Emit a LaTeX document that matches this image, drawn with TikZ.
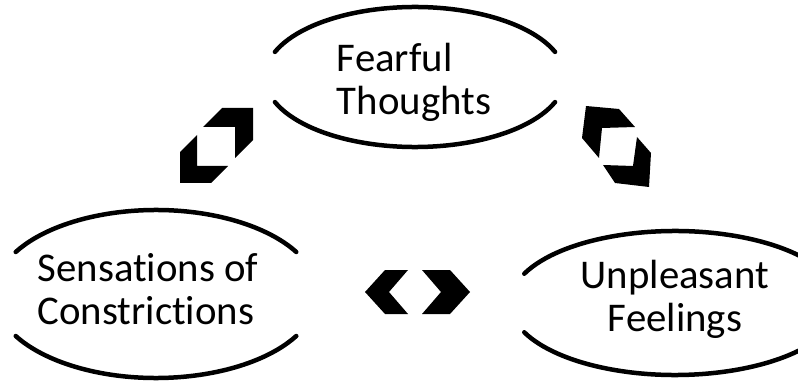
\documentclass[tikz,border=0pt]{standalone}
\usepackage{fontspec}
\setmainfont{Carlito}[Ligatures=NoCommon]

\tikzset{
	oval/.style={line width=3.2pt, line cap=round},
	thought/.style={inner sep=0pt, font=\fontsize{29pt}{30.5pt}\selectfont},
	chevron/.style={fill=black, draw=none}
}

% open oval: centre, x radius, y radius, gap angle at the sides
\newcommand{\openoval}[4]{%
	\draw[oval] ([shift={(180+#4:#2 and #3)}]#1) arc[start angle=180+#4, end angle=360-#4, x radius=#2, y radius=#3];
	\draw[oval] ([shift={(#4:#2 and #3)}]#1) arc[start angle=#4, end angle=180-#4, x radius=#2, y radius=#3];
}

\begin{document}
\begin{tikzpicture}[x=0.025cm, y=-0.025cm]
	% pixel grid of the picture
	\useasboundingbox (0,0) rectangle (798,381);
	
	% Top: fearful thoughts
	\coordinate (fearC) at (415,77);
	\node[thought, align=left] (fear) at (414,82) {Fearful\\Thoughts};
	\openoval{fearC}{150}{70}{21}
	
	% Bottom left: sensations
	\coordinate (sensC) at (156,294);
	\node[thought, align=left] (sens) at (148,289) {Sensations of\\Constrictions};
	\openoval{sensC}{162}{84}{30}
	
	% Bottom right: feelings
	\coordinate (feelC) at (675,303);
	\node[thought, align=center] (feel) at (675,299) {Unpleasant\\Feelings};
	\openoval{feelC}{165}{72}{24}
	
	%% chevrons between the ovals
	% sens <-> fear
	\fill[chevron] (222,108) -- (253,108) -- (253,140) -- (235,158) -- (235,127) -- (203,127) -- cycle;
	\fill[chevron] (180,152) -- (197,135) -- (197,166) -- (228,166) -- (211,183) -- (180,183) -- cycle;
	
	% fear <-> feel
	\fill[chevron] (586,106) -- (619,109) -- (635,127) -- (602,128) -- (599,158) -- (582,138) -- cycle;
	\fill[chevron] (637,137) -- (651,153) -- (649,187) -- (615,183) -- (603,165) -- (633,166) -- cycle;
	
	% sens <-> feel
	\fill[chevron] (365,292) -- (385,270) -- (408,270) -- (389,292) -- (408,314) -- (385,314) -- cycle;
	\fill[chevron] (422,270) -- (450,270) -- (470,292) -- (450,314) -- (422,314) -- (441,292) -- cycle;
	
\end{tikzpicture}
\end{document}
